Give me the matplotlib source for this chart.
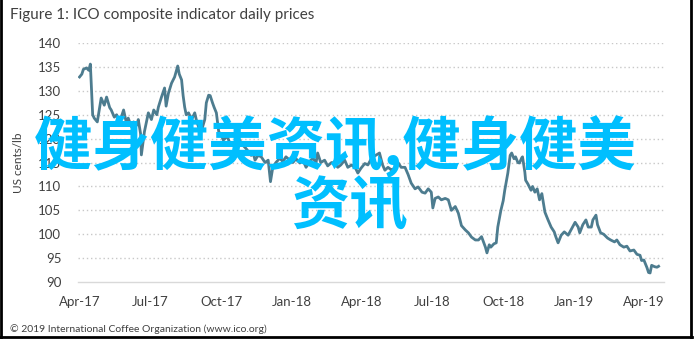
import numpy as np
import pandas as pd
import matplotlib
matplotlib.use("Agg")
import matplotlib.pyplot as plt
import matplotlib.dates as mdates

# ICO composite indicator (US cents/lb)
dates = [
    "2017-04-01", "2017-04-04", "2017-04-06", "2017-04-10", "2017-04-13", "2017-04-15",
    "2017-04-18", "2017-04-20", "2017-04-24", "2017-04-29", "2017-05-03", "2017-05-06",
    "2017-05-10", "2017-05-12", "2017-05-16", "2017-05-19", "2017-05-23", "2017-05-25",
    "2017-05-28", "2017-06-01", "2017-06-03", "2017-06-07", "2017-06-10", "2017-06-14",
    "2017-06-16", "2017-06-19", "2017-06-20", "2017-06-24", "2017-06-29", "2017-07-03",
    "2017-07-06", "2017-07-10", "2017-07-12", "2017-07-16", "2017-07-20", "2017-07-22",
    "2017-07-25", "2017-07-29", "2017-08-02", "2017-08-06", "2017-08-08", "2017-08-11",
    "2017-08-13", "2017-08-15", "2017-08-17", "2017-08-20", "2017-08-24", "2017-08-28",
    "2017-08-30", "2017-09-02", "2017-09-06", "2017-09-10", "2017-09-12", "2017-09-15",
    "2017-09-17", "2017-09-20", "2017-09-22", "2017-09-25", "2017-09-28", "2017-10-02",
    "2017-10-04", "2017-10-09", "2017-10-13", "2017-10-17", "2017-10-21", "2017-10-25",
    "2017-10-30", "2017-11-02", "2017-11-04", "2017-11-09", "2017-11-12", "2017-11-14",
    "2017-11-18", "2017-11-22", "2017-11-27", "2017-12-01", "2017-12-04", "2017-12-07",
    "2017-12-11", "2017-12-16", "2017-12-20", "2017-12-24", "2017-12-29", "2018-01-02",
    "2018-01-06", "2018-01-11", "2018-01-15", "2018-01-19", "2018-01-24", "2018-01-28",
    "2018-02-01", "2018-02-03", "2018-02-07", "2018-02-12", "2018-02-16", "2018-02-21",
    "2018-02-25", "2018-03-01", "2018-03-05", "2018-03-10", "2018-03-14", "2018-03-19",
    "2018-03-24", "2018-03-27", "2018-03-31", "2018-04-05", "2018-04-09", "2018-04-14",
    "2018-04-19", "2018-04-24", "2018-04-28", "2018-05-01", "2018-05-05", "2018-05-09",
    "2018-05-14", "2018-05-18", "2018-05-22", "2018-05-27", "2018-05-31", "2018-06-04",
    "2018-06-09", "2018-06-13", "2018-06-18", "2018-06-22", "2018-06-26", "2018-06-30",
    "2018-07-02", "2018-07-05", "2018-07-09", "2018-07-13", "2018-07-18", "2018-07-22",
    "2018-07-26", "2018-07-31", "2018-08-04", "2018-08-08", "2018-08-13", "2018-08-17",
    "2018-08-21", "2018-08-26", "2018-08-30", "2018-09-03", "2018-09-08", "2018-09-10",
    "2018-09-13", "2018-09-15", "2018-09-19", "2018-09-22", "2018-09-24", "2018-09-28",
    "2018-10-01", "2018-10-03", "2018-10-07", "2018-10-10", "2018-10-12", "2018-10-15",
    "2018-10-17", "2018-10-20", "2018-10-22", "2018-10-25", "2018-10-26", "2018-10-29",
    "2018-10-30", "2018-11-02", "2018-11-06", "2018-11-08", "2018-11-11", "2018-11-14",
    "2018-11-17", "2018-11-20", "2018-11-24", "2018-11-28", "2018-12-02", "2018-12-06",
    "2018-12-08", "2018-12-11", "2018-12-15", "2018-12-19", "2018-12-24", "2018-12-28",
    "2019-01-02", "2019-01-06", "2019-01-08", "2019-01-12", "2019-01-16", "2019-01-19",
    "2019-01-23", "2019-01-25", "2019-01-29", "2019-01-31", "2019-02-04", "2019-02-08",
    "2019-02-13", "2019-02-17", "2019-02-22", "2019-02-25", "2019-03-01", "2019-03-06",
    "2019-03-10", "2019-03-14", "2019-03-19", "2019-03-23", "2019-03-27", "2019-03-29",
    "2019-04-01", "2019-04-05", "2019-04-07", "2019-04-09", "2019-04-11", "2019-04-15",
    "2019-04-18", "2019-04-20",
]
prices = [
    132.9, 133.5, 134.5, 134.8, 134.3, 135.6,
    125.0, 124.3, 123.5, 128.5, 127.0, 128.7,
    126.5, 126.0, 124.5, 125.0, 123.5, 124.5,
    126.0, 123.0, 124.3, 122.5, 123.5, 122.8,
    124.0, 121.0, 116.6, 121.5, 125.4, 124.0,
    126.0, 125.0, 126.6, 128.7, 130.6, 126.8,
    129.5, 131.6, 132.9, 135.2, 133.5, 132.3,
    129.0, 126.6, 125.0, 125.4, 124.0, 125.4,
    124.0, 122.4, 121.8, 124.0, 127.5, 129.1,
    129.0, 127.5, 126.6, 125.4, 121.5, 120.5,
    119.7, 120.5, 118.8, 119.0, 118.5, 119.7,
    118.5, 118.0, 117.6, 116.5, 116.8, 115.5,
    116.5, 116.2, 115.0, 115.5, 111.0, 114.0,
    115.0, 115.9, 115.2, 116.2, 115.5, 115.0,
    115.8, 114.9, 115.5, 114.0, 115.3, 115.9,
    115.0, 117.0, 115.0, 115.5, 114.3, 115.0,
    114.9, 114.0, 114.5, 115.5, 114.0, 114.5,
    113.8, 112.8, 113.8, 114.8, 114.5, 116.0,
    116.5, 117.0, 114.5, 113.4, 114.0, 113.5,
    113.8, 115.0, 114.0, 114.0, 112.5, 110.7,
    109.5, 109.9, 108.8, 108.6, 109.5, 108.8,
    105.5, 107.5, 107.8, 107.2, 107.5, 107.2,
    105.0, 105.8, 104.4, 101.8, 100.9, 100.3,
    99.4, 98.8, 98.8, 99.5, 97.3, 96.1,
    97.8, 97.3, 98.0, 98.2, 101.5, 105.0,
    107.0, 109.2, 112.8, 116.5, 117.0, 115.8,
    116.2, 115.0, 114.9, 116.0, 116.2, 113.0,
    111.3, 110.5, 109.2, 110.0, 108.8, 109.5,
    107.2, 108.5, 104.6, 103.0, 101.5, 100.5,
    99.5, 98.2, 99.8, 100.5, 99.8, 101.0,
    102.5, 101.5, 100.3, 102.0, 103.0, 101.5,
    101.5, 103.0, 104.0, 102.0, 100.3, 100.0,
    99.2, 98.8, 98.4, 98.8, 97.8, 97.3,
    97.5, 96.5, 96.7, 95.8, 95.6, 94.5,
    94.6, 93.0, 92.0, 91.9, 93.5, 93.2,
    93.1, 93.3,
]
tick_dates = ["2017-04-01", "2017-07-01", "2017-10-01", "2018-01-01", "2018-04-01",
              "2018-07-01", "2018-10-01", "2019-01-01", "2019-04-01"]
tick_labels = ["Apr-17", "Jul-17", "Oct-17", "Jan-18", "Apr-18",
               "Jul-18", "Oct-18", "Jan-19", "Apr-19"]
y_ticks = [90, 95, 100, 105, 110, 115, 120, 125, 130, 135, 140]

x = pd.to_datetime(dates)

fig = plt.figure(figsize=(6.95, 3.39), dpi=100)
ax = fig.add_axes([0.1122, 0.168, 0.8432, 0.705])

ax.plot(x, prices, color="#4d7c8f", lw=2.0, solid_joinstyle="round")

ax.set_ylim(90, 140)
ax.set_xlim(pd.Timestamp("2017-03-30"), pd.Timestamp("2019-04-27"))
ax.set_yticks(y_ticks)
ax.set_xticks(pd.to_datetime(tick_dates))
ax.set_xticklabels(tick_labels)

for v in y_ticks[1:]:
    ax.axhline(v, color="#c8c8c8", lw=1.0, ls=(0, (1, 2)), zorder=0)

for s in ["top", "right", "left"]:
    ax.spines[s].set_visible(False)
ax.spines["bottom"].set_color("#d9d9d9")
ax.spines["bottom"].set_linewidth(1.0)
ax.tick_params(length=0, labelsize=9.5, labelcolor="#404040", pad=10)
ax.tick_params(axis="y", pad=12)
for lab in ax.get_xticklabels() + ax.get_yticklabels():
    lab.set_family("Lato")

ax.set_ylabel("US cents/lb", fontsize=8.5, color="#404040", family="Lato", labelpad=10)

fig.text(0.014, 0.955, "Figure 1: ICO composite indicator daily prices", fontsize=11,
         color="#404040", family="Lato", va="center", ha="left")
fig.text(0.014, 0.028, "\u00a9 2019 International Coffee Organization (www.ico.org)",
         fontsize=7.5, color="#404040", family="Lato", va="center", ha="left")

# border lines
fig.add_artist(plt.Line2D([0.002, 0.002], [0.0, 1.0], color="black", lw=2, transform=fig.transFigure))
fig.add_artist(plt.Line2D([0.994, 0.994], [0.0, 1.0], color="black", lw=2, transform=fig.transFigure))
fig.add_artist(plt.Line2D([0.0, 0.995], [0.005, 0.005], color="black", lw=2, transform=fig.transFigure))

# watermark
wm = dict(fontsize=42, color="#00bfff", weight="bold", ha="center", va="center",
          family=["Noto Sans CJK SC", "DejaVu Sans"])
fig.text(0.482, 1 - 147 / 339, "健身健美资讯,健身健美", **wm)
fig.text(0.503, 1 - 207 / 339, "资讯", **wm)

fig.savefig("out.png", dpi=100)
